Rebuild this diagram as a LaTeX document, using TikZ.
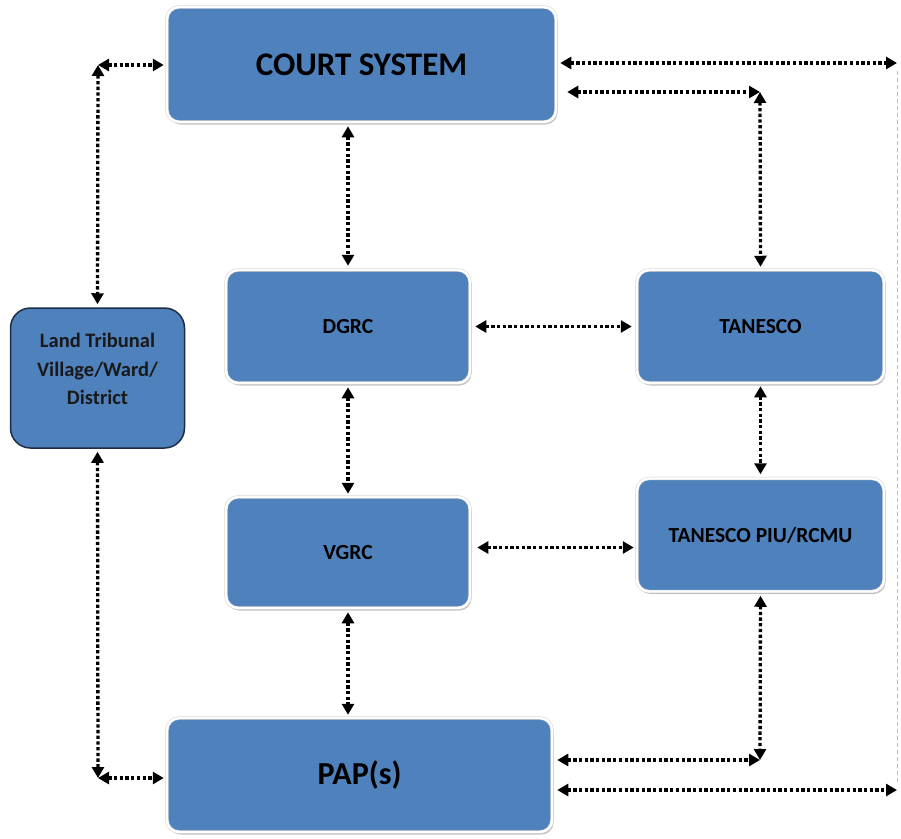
\documentclass[tikz,border=0pt]{standalone}
\usepackage{fontspec}
\setmainfont{Carlito}
\usetikzlibrary{arrows.meta,shadows}
\definecolor{boxblue}{HTML}{4F81BD}
\definecolor{tribunalline}{HTML}{1C2E45}
\begin{document}
\begin{tikzpicture}[x=1pt,y=-1pt,
  box/.style={rectangle, rounded corners=12pt, fill=boxblue, draw=black!18,
    double=white, double distance=2.4pt, line width=0.5pt,
    font=\bfseries, text=black, inner sep=0pt, align=center,
    drop shadow={shadow xshift=1.5pt, shadow yshift=-2.5pt, fill=black!40, opacity=0.6}},
  tribunal/.style={rectangle, rounded corners=20pt, fill=boxblue, draw=tribunalline,
    line width=1.5pt, inner sep=0pt},
  small/.style={font=\bfseries\fontsize{21.5}{26}\selectfont},
  dar/.style={line width=3.3pt, dash pattern=on 3.3pt off 2.4pt,
    {Triangle[length=11pt,width=12pt]}-{Triangle[length=11pt,width=12pt]}},
  faint/.style={line width=0.8pt, draw=black!25, dash pattern=on 4pt off 3pt}
]
\useasboundingbox (0,0) rectangle (901,838);

% boxes
\node[box, minimum width=389pt, minimum height=115pt, font=\bfseries\fontsize{33}{38}\selectfont] (court) at (361.5,64.5) {COURT SYSTEM};
\node[box, small, minimum width=244pt, minimum height=113pt] (dgrc) at (348,326.5) {DGRC};
\node[box, small, minimum width=247pt, minimum height=113pt] (tan) at (760.5,326.5) {TANESCO};
\node[box, small, minimum width=244pt, minimum height=111pt] (vgrc) at (348,552.5) {VGRC};
\node[box, small, minimum width=247pt, minimum height=113pt] (piu) at (760.5,535) {TANESCO PIU/RCMU};
\node[box, minimum width=385pt, minimum height=114pt, font=\bfseries\fontsize{32}{36}\selectfont] (pap) at (359.5,775) {PAP(s)};
\node[tribunal, minimum width=174pt, minimum height=140pt] (land) at (97.5,378) {};
\node[font=\bfseries\fontsize{20.5}{28.5}\selectfont, text=black!90, align=center, inner sep=0pt]
  (landtext) at ([yshift=9pt]land.center) {Land Tribunal\\Village/Ward/\\District};

% corner points of the elbow connectors
\coordinate (cl) at (98,65);
\coordinate (ct) at (760,92);
\coordinate (cr) at (897,63);
\coordinate (pp) at (760,760);
\coordinate (pr) at (897,790);
\coordinate (lp) at (98,778);

% connectors
\draw[dar, shorten >=3pt] (cl) -- (court.west |- cl);
\draw[dar, shorten >=3pt] (cl) -- (land.north);
\draw[dar, shorten <=4pt, shorten >=4pt] (dgrc.north |- court.south) -- (dgrc.north);
\draw[dar, shorten <=4pt] (court.east |- cr) -- (cr);
\draw[faint] ([yshift=-8pt]cr) -- ([yshift=6pt]pr);
\draw[dar, shorten <=11pt] (court.east |- ct) -- (ct);
\draw[dar, shorten >=3pt] (ct) -- (tan.north);
\draw[dar, shorten <=5pt, shorten >=5pt] (dgrc.east) -- (tan.west);
\draw[dar, shorten <=4pt, shorten >=3pt] (dgrc.south) -- (vgrc.north);
\draw[dar, shorten <=3pt, shorten >=4pt] (tan.south) -- (piu.north);
\draw[dar, shorten <=7pt, shorten >=3pt] ([yshift=5pt]vgrc.east) -- ([yshift=5pt]vgrc.east -| piu.west);
\draw[dar, shorten <=4pt, shorten >=3pt] (vgrc.south) -- (vgrc.south |- pap.north);
\draw[dar, shorten <=4pt] (piu.south) -- (pp);
\draw[dar, shorten <=5pt] (pap.east |- pp) -- (pp);
\draw[dar, shorten <=5pt] (pap.east |- pr) -- (pr);
\draw[dar, shorten <=3pt] (land.south) -- (lp);
\draw[dar, shorten >=3pt] (lp) -- (pap.west |- lp);
\end{tikzpicture}
\end{document}
